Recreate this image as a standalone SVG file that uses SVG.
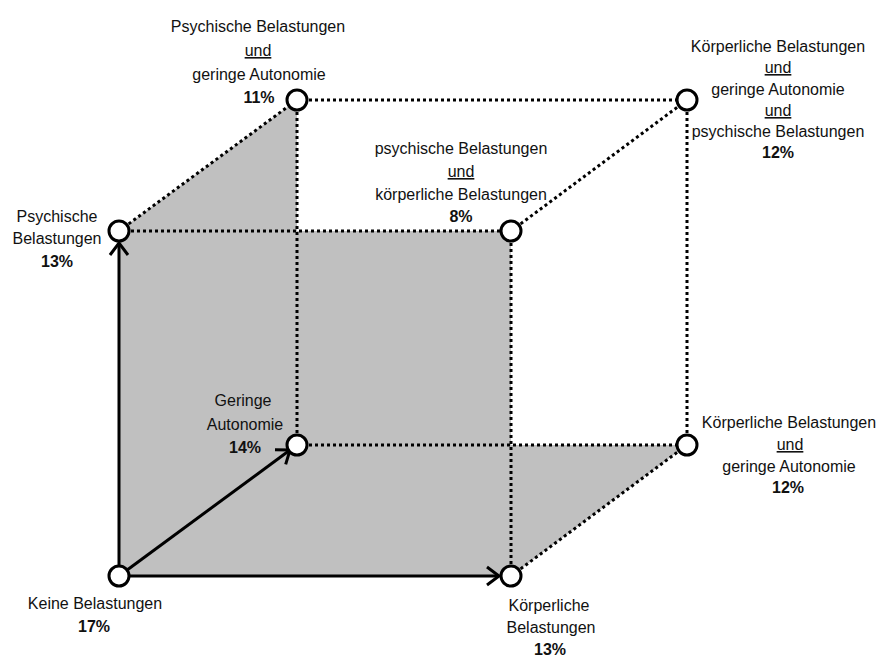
<svg xmlns="http://www.w3.org/2000/svg" width="877" height="657" viewBox="0 0 877 657">
<defs>
<style>
text{font-family:"Liberation Sans",Arial,sans-serif;font-size:16px;fill:#111;text-anchor:middle}
.b{font-weight:bold}
.u{text-decoration:underline}
.dot{stroke:#000;stroke-width:3;stroke-dasharray:3 3;fill:none}
.arr{stroke:#000;stroke-width:3;fill:none}
.node{fill:#fff;stroke:#000;stroke-width:3}
</style>
<marker id="ah" markerUnits="userSpaceOnUse" markerWidth="20" markerHeight="22" viewBox="-14 -11 16 22" refX="0" refY="0" orient="auto">
<path d="M-12,-9 L0,0 L-12,9" fill="none" stroke="#000" stroke-width="3"/>
</marker>
</defs>
<rect width="877" height="657" fill="#fff"/>
<polygon id="shade" points="119,576 119,231 297,100 297,231 511,231 511,445 687,445 511,576" fill="#c0c0c0"/>
<g id="connectors">
<line class="dot" x1="119" y1="231" x2="297" y2="100"/>
<line class="dot" x1="297" y1="100" x2="687" y2="100"/>
<line class="dot" x1="297" y1="100" x2="297" y2="445"/>
<line class="dot" x1="119" y1="231" x2="511" y2="231"/>
<line class="dot" x1="511" y1="231" x2="687" y2="100"/>
<line class="dot" x1="687" y1="100" x2="687" y2="445"/>
<line class="dot" x1="511" y1="231" x2="511" y2="576"/>
<line class="dot" x1="297" y1="445" x2="687" y2="445"/>
<line class="dot" x1="511" y1="576" x2="687" y2="445"/>
<line class="arr" x1="119" y1="576" x2="119" y2="243" marker-end="url(#ah)"/>
<line class="arr" x1="119" y1="576" x2="290" y2="450" marker-end="url(#ah)"/>
<line class="arr" x1="119" y1="576" x2="499" y2="576" marker-end="url(#ah)"/>
</g>
<g id="n-keine">
<circle class="node" cx="119" cy="576" r="10"/>
<text x="95" y="609">Keine Belastungen</text>
<text class="b" x="94" y="632">17%</text>
</g>
<g id="n-koerper">
<circle class="node" cx="511" cy="576" r="10"/>
<text x="549" y="611">Körperliche</text>
<text x="551" y="633">Belastungen</text>
<text class="b" x="550" y="655">13%</text>
</g>
<g id="n-psych">
<circle class="node" cx="119" cy="231" r="10"/>
<text x="57" y="222">Psychische</text>
<text x="57" y="244">Belastungen</text>
<text class="b" x="57" y="267">13%</text>
</g>
<g id="n-psych-koerper">
<circle class="node" cx="511" cy="231" r="10"/>
<text x="461" y="154">psychische Belastungen</text>
<text class="u" x="461" y="177">und</text>
<text x="461" y="200">körperliche Belastungen</text>
<text class="b" x="461" y="222">8%</text>
</g>
<g id="n-autonomie">
<circle class="node" cx="297" cy="445" r="10"/>
<text x="243" y="406">Geringe</text>
<text x="245" y="430">Autonomie</text>
<text class="b" x="245" y="453">14%</text>
</g>
<g id="n-koerper-auton">
<circle class="node" cx="687" cy="445" r="10"/>
<text x="789" y="428">Körperliche Belastungen</text>
<text class="u" x="790" y="450">und</text>
<text x="789" y="472">geringe Autonomie</text>
<text class="b" x="788" y="493">12%</text>
</g>
<g id="n-psych-auton">
<circle class="node" cx="297" cy="100" r="10"/>
<text x="258" y="32">Psychische Belastungen</text>
<text class="u" x="258" y="56">und</text>
<text x="259" y="80">geringe Autonomie</text>
<text class="b" x="259" y="103">11%</text>
</g>
<g id="n-alle">
<circle class="node" cx="687" cy="100" r="10"/>
<text x="778" y="52">Körperliche Belastungen</text>
<text class="u" x="778" y="73">und</text>
<text x="778" y="95">geringe Autonomie</text>
<text class="u" x="778" y="116">und</text>
<text x="778" y="137">psychische Belastungen</text>
<text class="b" x="778" y="158">12%</text>
</g>
</svg>
